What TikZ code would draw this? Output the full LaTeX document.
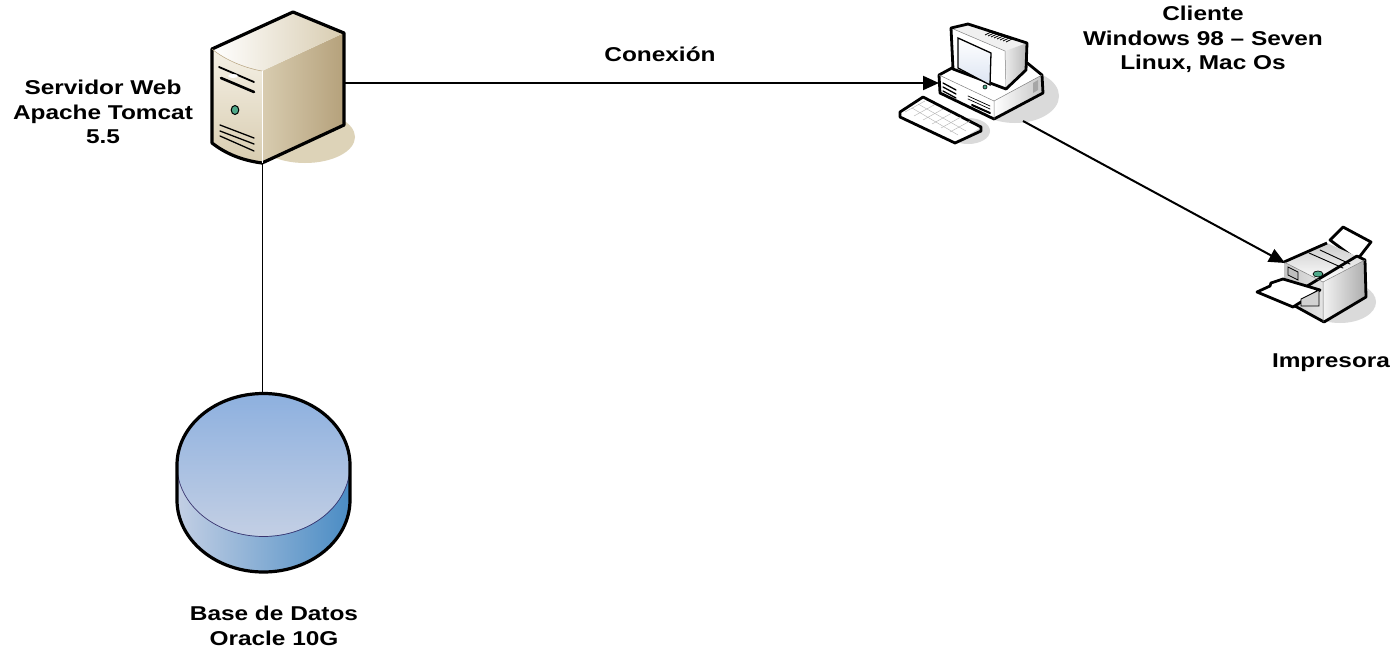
\documentclass[tikz,border=0pt]{standalone}
\usepackage{fontspec}
\setmainfont{Liberation Sans}
\newfontfamily\widefont[FakeStretch=1.22]{Liberation Sans}
\usetikzlibrary{arrows.meta,positioning,calc}
\definecolor{ink}{HTML}{000000}
\definecolor{sandshadow}{HTML}{DDD3B8}
\definecolor{grayshadow}{HTML}{DADADA}
\definecolor{tandark}{HTML}{B5A17B}
\definecolor{tanmid}{HTML}{D8CCB0}
\definecolor{tanlight}{HTML}{F5F1E6}
\definecolor{dbtop}{HTML}{8DB0DF}
\definecolor{dbpale}{HTML}{C3CFE4}
\definecolor{dbside}{HTML}{4A8CC4}
\definecolor{dbedge}{HTML}{3A3570}
\definecolor{screenblue}{HTML}{DCE4F2}
\definecolor{ledgreen}{HTML}{4FA98A}
\tikzset{
  label/.style={font=\widefont\bfseries\fontsize{20}{24.5}\selectfont,align=center,inner sep=0pt,text=ink},
  outline/.style={draw=ink,line width=2.8pt,line join=round},
  detail/.style={draw=ink,line width=1.3pt,line cap=round},
  linkarr/.style={-{Triangle[length=16pt,width=14pt]},line width=2pt,draw=ink},
  linkplain/.style={line width=1pt,draw=ink}
}
\begin{document}
\begin{tikzpicture}[x=1pt,y=-1pt]
  \useasboundingbox (0,0) rectangle (1395,651);
  \fill[white] (0,0) rectangle (1395,651);

  % connector ends
  \coordinate (srvE) at (345,83);
  \coordinate (srvS) at (262,163);
  \coordinate (pcW) at (939,83);
  \coordinate (pcS) at (1023,121);
  \coordinate (dbN) at (262,393);
  \coordinate (prnW) at (1285,263);

  % server
  \fill[sandshadow] (305,137) ellipse (50 and 26);
  \shade[left color=tanmid,middle color=tanlight,right color=tandark] (262,71) -- (344,33) -- (344,125) -- (262,163) -- cycle;
  \shade[top color=tanlight,bottom color=tanmid] (212,49) .. controls (225,60) and (245,68) .. (262,71) -- (262,163) .. controls (240,160) and (225,153) .. (212,143) -- cycle;
  \shade[left color=white,right color=tanmid] (212,49) -- (293,12) -- (344,33) -- (262,71) .. controls (245,68) and (225,60) .. (212,49);
  \draw[outline,line width=3.2pt] (212,49) -- (293,12) -- (344,33) -- (344,125) -- (262,163) .. controls (240,160) and (225,153) .. (212,143) -- cycle;
  \draw[line width=0.5pt,tandark] (212,49) .. controls (225,60) and (245,68) .. (262,71);
  \draw[white,line width=0.6pt] (262,71) -- (262,163);
  \draw[detail,line width=1.8pt] (219,67) -- (254,82);
  \draw[detail,line width=2.6pt] (221,78) -- (254,92);
  \fill[white] (233,76) ellipse (5 and 2);
  \draw[detail] (220,125) -- (254,138) (220,131) -- (254,144) (220,136) -- (254,151);
  \fill[ledgreen,draw=ink,line width=1pt] (235,110) circle (3.8 and 4.5);

  % client
  \fill[grayshadow] (1015,96) ellipse (44 and 27);
  \fill[grayshadow] (968,131) ellipse (22 and 13);
  \fill[white] (939,75) -- (952,68) -- (1026,62) -- (1042,75) -- (1043,93) -- (994,119) -- (940,93) -- cycle;
  \shade[left color=white,right color=gray!45] (994,101) -- (1042,75) -- (1043,93) -- (994,119) -- cycle;
  \draw[outline] (939,75) -- (952,68) -- (1026,62) -- (1042,75) -- (1043,93) -- (994,119) -- (940,93) -- cycle;
  \draw[line width=0.5pt,gray] (939,75) -- (994,101) -- (1042,75) (994,101) -- (994,119);
  \fill[gray!12] (951,28) -- (968,24) -- (1027,43) -- (1005,51) -- cycle;
  \shade[left color=gray!15,right color=gray!55] (1005,51) -- (1027,43) -- (1026,70) -- (1007,89) -- cycle;
  \fill[white,draw=gray,line width=0.5pt] (951,28) -- (1005,51) -- (1006,89) -- (953,69) -- cycle;
  \draw[outline] (951,28) -- (968,24) -- (1027,43) -- (1026,70) -- (1006,89) -- (953,69) -- cycle;
  \shade[top color=white,bottom color=screenblue,draw=ink,line width=1.3pt] (958,38) -- (991,53) -- (990,85) -- (958,68) -- cycle;
  \fill[ledgreen,draw=ink,line width=0.6pt] (985,87) circle (2);
  \foreach \i in {0,...,7}
    \draw[line width=0.7pt,ink] ({985+3*\i},{35+\i}) -- ({993+3*\i},{31+\i});
  \draw[detail] (943,83) -- (956,90) (943,87) -- (956,94) (943,91) -- (956,98);
  \draw[detail,line width=0.7pt] (968,96) -- (990,106) (968,99) -- (990,109);
  \draw[detail,line width=2pt] (972,105) -- (990,113);
  \fill[gray!70] (1033,83) -- (1038,80) -- (1038,90) -- (1033,93) -- cycle;
  % keyboard
  \fill[white] (900,112) -- (923,97) -- (981,127) -- (955,143) -- cycle;
  \draw[outline] (900,112) -- (923,97) -- (981,127) -- (981,131) -- (955,143) -- (900,117) -- cycle;
  \draw[line width=0.4pt,gray!60] (905,112) -- (925,101) (914,116) -- (934,105) (923,120) -- (943,109) (932,124) -- (952,113) (941,128) -- (961,117) (950,132) -- (970,121);
  \draw[line width=0.4pt,gray!60] (912,108) -- (958,135) (918,104) -- (966,131);

  % printer
  \fill[grayshadow] (1340,302) ellipse (36 and 21);
  \fill[white,outline] (1330,240) -- (1343,227) -- (1371,242) -- (1357,260) -- cycle;
  \shade[left color=gray!10,right color=gray!65] (1323,282) -- (1365,260) -- (1366,297) -- (1324,322) -- cycle;
  \shade[left color=gray!45,right color=gray!20] (1284,262) -- (1323,282) -- (1324,322) -- (1284,300) -- cycle;
  \shade[top color=gray!40,bottom color=white] (1284,262) -- (1327,243) -- (1365,260) -- (1323,282) -- cycle;
  \draw[outline] (1284,262) -- (1327,243) (1357,256) -- (1365,260) -- (1366,297) -- (1324,322) -- (1284,300) -- cycle;
  \draw[line width=0.5pt,gray] (1284,262) -- (1323,282) -- (1365,260) (1323,282) -- (1323,322);
  \draw[detail,line width=0.9pt] (1309,253) -- (1343,268) (1320,250) -- (1350,264);
  \draw[detail,line width=0.8pt,fill=gray!50] (1288,267) -- (1298,272) -- (1298,280) -- (1288,275) -- cycle;
  \fill[ledgreen,draw=ink,line width=0.7pt] (1318,274) ellipse (5 and 3);
  \fill[white,outline] (1257,292) -- (1270,286) -- (1271,283) -- (1283,279) -- (1320,290) -- (1293,307) -- cycle;
  \fill[gray!35,draw=ink,line width=0.9pt] (1301,299) -- (1319,290) -- (1319,306) -- (1301,306) -- cycle;

  % database
  \shade[left color=dbpale,right color=dbside] (177,465) -- (177,500) arc[start angle=180,end angle=0,x radius=86.5,y radius=72] -- (350,465) -- cycle;
  \shade[top color=dbtop,bottom color=dbpale] (263.5,464.5) ellipse (86.5 and 71.5);
  \draw[line width=0.7pt,dbedge] (177,465) arc[start angle=180,end angle=0,x radius=86.5,y radius=71.5];
  \draw[outline,line width=3.2pt] (177,465) arc[start angle=180,end angle=360,x radius=86.5,y radius=71.5] -- (350,500) arc[start angle=0,end angle=180,x radius=86.5,y radius=72] -- cycle;

  % connectors
  \draw[linkarr] (srvE) -- (pcW);
  \draw[linkarr] (pcS) -- (prnW);
  \draw[linkplain] (srvS) -- (dbN);

  % labels
  \node[label] (srvlabel) at (103,112) {Servidor Web\\Apache Tomcat\\5.5};
  \node[label] (conlabel) at (660,54) {Conexión};
  \node[label] (pclabel) at (1203,39.5) {Cliente\\Windows 98 – Seven\\Linux, Mac Os};
  \node[label] (prnlabel) at (1331,363) {Impresora};
  \node[label] (dblabel) at (274,626) {Base de Datos\\Oracle 10G};
\end{tikzpicture}
\end{document}
